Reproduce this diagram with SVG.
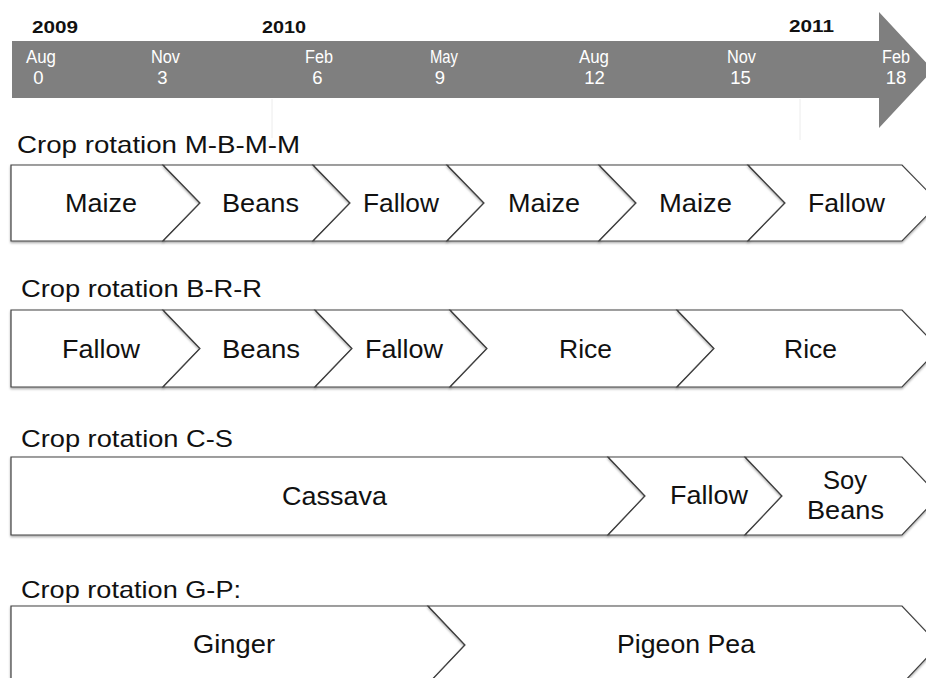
<svg xmlns="http://www.w3.org/2000/svg" width="926" height="678" viewBox="0 0 926 678">
<defs>
<filter id="sh" x="-5%" y="-10%" width="110%" height="130%">
<feDropShadow dx="0" dy="1.5" stdDeviation="1" flood-color="#000" flood-opacity="0.35"/>
</filter>
</defs>
<style>
text{font-family:"Liberation Sans",Arial,sans-serif}
.yr{font-size:16px;font-weight:bold;fill:#111}
.mo{font-size:17.5px;fill:#fff}
.num{font-size:18.5px;fill:#fff;text-anchor:middle}
.title{font-size:24px;fill:#111}
.lbl{font-size:25px;fill:#111}
.seg{fill:#fff;stroke:#404040;stroke-width:1.2;filter:url(#sh)}
.tick{stroke:#ececec;stroke-width:1}
</style>
<rect width="926" height="678" fill="#fff"/>

<g id="timeline">
<polygon points="12,41 879,41 879,12 933,70 879,128 879,98 12,98" fill="#7f7f7f"/>
<line class="tick" x1="272" y1="99" x2="272" y2="138"/>
<line class="tick" x1="800" y1="99" x2="800" y2="140"/>
<text class="yr" x="32" y="33" textLength="46" lengthAdjust="spacingAndGlyphs">2009</text>
<text class="yr" x="262" y="33" textLength="44" lengthAdjust="spacingAndGlyphs">2010</text>
<text class="yr" x="789" y="32" textLength="45" lengthAdjust="spacingAndGlyphs">2011</text>
<text class="mo" x="26" y="62.5" textLength="30" lengthAdjust="spacingAndGlyphs">Aug</text>
<text class="mo" x="151" y="62.5" textLength="29" lengthAdjust="spacingAndGlyphs">Nov</text>
<text class="mo" x="305" y="62.5" textLength="28" lengthAdjust="spacingAndGlyphs">Feb</text>
<text class="mo" x="430" y="62.5" textLength="28" lengthAdjust="spacingAndGlyphs">May</text>
<text class="mo" x="579" y="62.5" textLength="30" lengthAdjust="spacingAndGlyphs">Aug</text>
<text class="mo" x="727" y="62.5" textLength="29" lengthAdjust="spacingAndGlyphs">Nov</text>
<text class="mo" x="882" y="62.5" textLength="28" lengthAdjust="spacingAndGlyphs">Feb</text>
<text class="num" x="38.5" y="83.5">0</text>
<text class="num" x="162.5" y="83.5">3</text>
<text class="num" x="317.5" y="83.5">6</text>
<text class="num" x="440" y="83.5">9</text>
<text class="num" x="594.5" y="83.5">12</text>
<text class="num" x="740.5" y="83.5">15</text>
<text class="num" x="896" y="83.5">18</text>
</g>

<g id="rotation-MBMM">
<text class="title" x="17" y="153" textLength="283" lengthAdjust="spacingAndGlyphs">Crop rotation M-B-M-M</text>
<g id="r1-maize1"><polygon class="seg" points="11,165 163,165 200,203 163,241 11,241"/><text class="lbl" x="65" y="212" textLength="72" lengthAdjust="spacingAndGlyphs">Maize</text></g>
<g id="r1-beans"><polygon class="seg" points="163,165 313,165 350,203 313,241 163,241 200,203"/><text class="lbl" x="222" y="212" textLength="77" lengthAdjust="spacingAndGlyphs">Beans</text></g>
<g id="r1-fallow1"><polygon class="seg" points="313,165 447,165 484,203 447,241 313,241 350,203"/><text class="lbl" x="363" y="212" textLength="76" lengthAdjust="spacingAndGlyphs">Fallow</text></g>
<g id="r1-maize2"><polygon class="seg" points="447,165 599,165 636,203 599,241 447,241 484,203"/><text class="lbl" x="508" y="212" textLength="72" lengthAdjust="spacingAndGlyphs">Maize</text></g>
<g id="r1-maize3"><polygon class="seg" points="599,165 748,165 785,203 748,241 599,241 636,203"/><text class="lbl" x="659" y="212" textLength="73" lengthAdjust="spacingAndGlyphs">Maize</text></g>
<g id="r1-fallow2"><polygon class="seg" points="748,165 902,165 939,203 902,241 748,241 785,203"/><text class="lbl" x="808" y="212" textLength="77" lengthAdjust="spacingAndGlyphs">Fallow</text></g>
</g>

<g id="rotation-BRR">
<text class="title" x="21" y="297" textLength="241" lengthAdjust="spacingAndGlyphs">Crop rotation B-R-R</text>
<g id="r2-fallow1"><polygon class="seg" points="11,310 163,310 200,348.5 163,387 11,387"/><text class="lbl" x="62" y="357.5" textLength="78" lengthAdjust="spacingAndGlyphs">Fallow</text></g>
<g id="r2-beans"><polygon class="seg" points="163,310 315,310 352,348.5 315,387 163,387 200,348.5"/><text class="lbl" x="222" y="357.5" textLength="78" lengthAdjust="spacingAndGlyphs">Beans</text></g>
<g id="r2-fallow2"><polygon class="seg" points="315,310 450,310 487,348.5 450,387 315,387 352,348.5"/><text class="lbl" x="365" y="357.5" textLength="78" lengthAdjust="spacingAndGlyphs">Fallow</text></g>
<g id="r2-rice1"><polygon class="seg" points="450,310 677,310 714,348.5 677,387 450,387 487,348.5"/><text class="lbl" x="559" y="357.5" textLength="53" lengthAdjust="spacingAndGlyphs">Rice</text></g>
<g id="r2-rice2"><polygon class="seg" points="677,310 902,310 939,348.5 902,387 677,387 714,348.5"/><text class="lbl" x="784" y="357.5" textLength="53" lengthAdjust="spacingAndGlyphs">Rice</text></g>
</g>

<g id="rotation-CS">
<text class="title" x="21" y="447" textLength="212" lengthAdjust="spacingAndGlyphs">Crop rotation C-S</text>
<g id="r3-cassava"><polygon class="seg" points="11,457 608,457 645,496 608,535 11,535"/><text class="lbl" x="282" y="505" textLength="105" lengthAdjust="spacingAndGlyphs">Cassava</text></g>
<g id="r3-fallow"><polygon class="seg" points="608,457 745,457 782,496 745,535 608,535 645,496"/><text class="lbl" x="670" y="504" textLength="78" lengthAdjust="spacingAndGlyphs">Fallow</text></g>
<g id="r3-soybeans"><polygon class="seg" points="745,457 902,457 939,496 902,535 745,535 782,496"/><text class="lbl" x="823" y="489" textLength="44" lengthAdjust="spacingAndGlyphs">Soy</text><text class="lbl" x="807" y="519" textLength="77" lengthAdjust="spacingAndGlyphs">Beans</text></g>
</g>

<g id="rotation-GP">
<text class="title" x="21" y="598" textLength="220" lengthAdjust="spacingAndGlyphs">Crop rotation G-P:</text>
<g id="r4-ginger"><polygon class="seg" points="11,606 428,606 465,645 428,684 11,684"/><text class="lbl" x="193" y="653" textLength="82" lengthAdjust="spacingAndGlyphs">Ginger</text></g>
<g id="r4-pigeonpea"><polygon class="seg" points="428,606 902,606 939,645 902,684 428,684 465,645"/><text class="lbl" x="617" y="653" textLength="138" lengthAdjust="spacingAndGlyphs">Pigeon Pea</text></g>
</g>
</svg>
